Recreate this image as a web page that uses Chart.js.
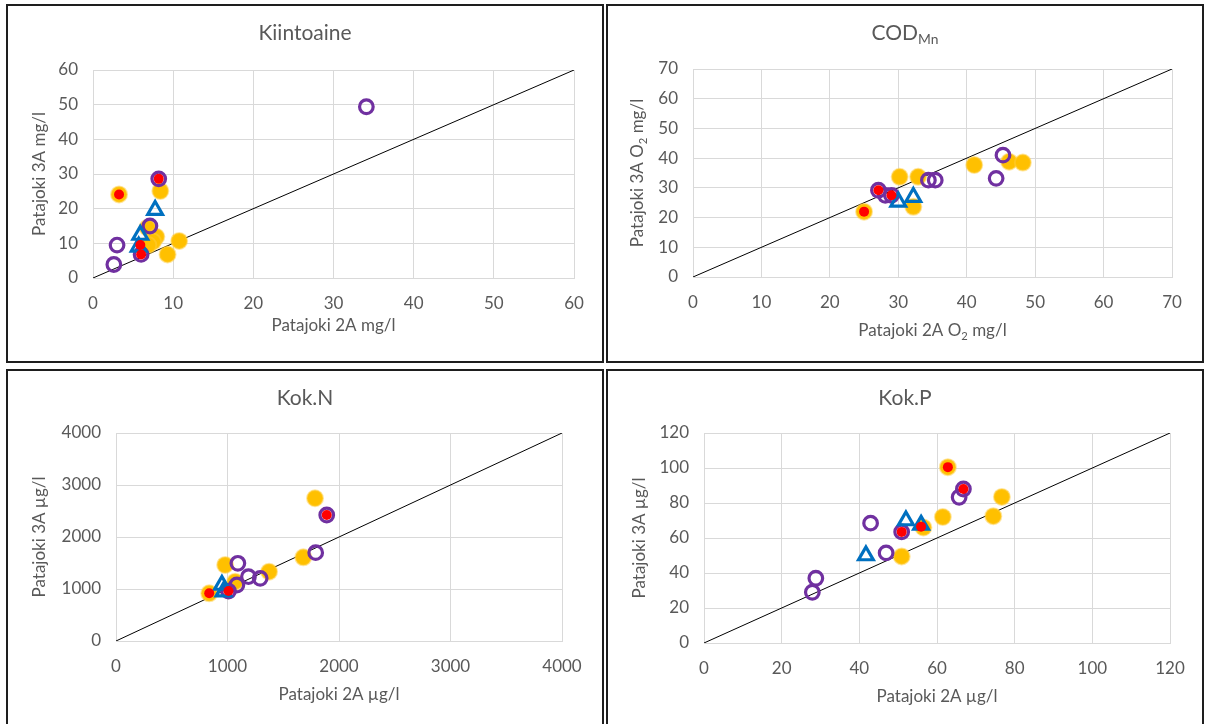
<!DOCTYPE html>
<html><head><meta charset="utf-8">
<script src="https://cdn.jsdelivr.net/npm/chart.js@4.4.0/dist/chart.umd.min.js"></script>
<style>
html,body{margin:0;padding:0;background:#fff;width:1205px;height:724px;overflow:hidden;position:relative;}
.panel{position:absolute;border:2px solid #1e1e1e;background:#fff;}
.panel canvas{display:block;}
</style></head><body>
<div class="panel" style="left:6px;top:4px;width:594px;height:355px"><canvas id="c1" width="594" height="355"></canvas></div>
<div class="panel" style="left:606px;top:4px;width:594px;height:355px"><canvas id="c2" width="594" height="355"></canvas></div>
<div class="panel" style="left:6px;top:369px;width:594px;height:355px"><canvas id="c3" width="594" height="355"></canvas></div>
<div class="panel" style="left:606px;top:369px;width:594px;height:355px"><canvas id="c4" width="594" height="355"></canvas></div>
<script>
// ---- data: [Patajoki 2A, Patajoki 3A] ----
const kiintoaineOrange = [[3.25,24.1],[8.4,25.1],[6.8,14.5],[7.9,11.9],[7.5,10.5],[10.75,10.7],[9.3,6.8],[6.9,9.5]];
const kiintoainePurple = [[8.2,28.6],[7.1,15.0],[3.0,9.5],[2.6,3.9],[6.0,6.8],[34.1,49.4]];
const kiintoaineBlue   = [[7.75,19.6],[5.9,12.4],[5.7,9.0]];
const kiintoaineRed    = [[3.25,24.1],[8.2,28.6],[6.0,6.8],[5.9,9.5]];

const codOrange = [[25.0,22.0],[30.2,33.7],[32.2,23.6],[32.9,33.7],[41.1,37.7],[46.2,38.8],[48.2,38.5]];
const codPurple = [[27.1,29.2],[28.1,27.5],[29.0,27.5],[34.4,32.6],[35.4,32.6],[44.3,33.2],[45.3,41.0]];
const codBlue   = [[30.0,25.3],[32.2,26.9]];
const codRed    = [[25.0,22.0],[27.1,29.2],[29.0,27.5]];

const kokNOrange = [[1785,2745],[1680,1609],[979,1462],[1373,1333],[1069,1141],[836,917]];
const kokNPurple = [[1890,2423],[1791,1699],[1093,1494],[1188,1237],[1293,1205],[1084,1077],[1009,960]];
const kokNBlue   = [[950,1077],[964,948]];
const kokNRed    = [[836,917],[1890,2423],[1009,960]];

const kokPOrange = [[62.8,100.5],[76.7,83.5],[74.5,72.5],[61.5,72.0],[56.5,66.0],[50.9,49.5]];
const kokPPurple = [[66.8,88.0],[65.7,83.3],[50.9,63.5],[42.9,68.5],[46.9,51.5],[28.8,37.0],[27.9,29.0]];
const kokPBlue   = [[52.0,70.0],[55.9,67.5],[41.7,50.0]];
const kokPRed    = [[62.8,100.5],[66.8,88.0],[50.9,63.5],[55.9,66.5]];

// axis ranges [min, max, step]; the 1:1 reference line runs from min to max
const kiintoaineAxis = [0, 60, 10];
const codAxis        = [0, 70, 10];
const kokNAxis       = [0, 4000, 1000];
const kokPAxis       = [0, 120, 20];

const FONT = 'Lato, "Open Sans", sans-serif';
const GRAY = '#595959';

function pts(a){ return a.map(p => ({x:p[0], y:p[1]})); }

function drawRich(ctx, segs, cx, cy, size, rotate){
  ctx.save();
  let total = 0;
  const ws = segs.map(s => { ctx.font = (s[1] ? size*0.66 : size) + 'px ' + FONT; const w = ctx.measureText(s[0]).width; total += w; return w; });
  ctx.translate(cx, cy);
  if (rotate) ctx.rotate(-Math.PI/2);
  ctx.fillStyle = GRAY; ctx.textBaseline = 'middle'; ctx.textAlign = 'left';
  let x = -total/2;
  segs.forEach((s,i) => {
    ctx.font = (s[1] ? size*0.66 : size) + 'px ' + FONT;
    ctx.fillText(s[0], x, s[1] ? size*0.3 : 0);
    x += ws[i];
  });
  ctx.restore();
}

const richPlugin = {
  id:'rich',
  afterDraw(chart){
    const o = chart.options.plugins.rich; if(!o) return;
    const ctx = chart.ctx, ca = chart.chartArea;
    drawRich(ctx, o.title, chart.width/2, o.titleY, 21, false);
    drawRich(ctx, o.xTitle, (ca.left+ca.right)/2, o.xTitleY, 17, false);
    drawRich(ctx, o.yTitle, o.yTitleX, (ca.top+ca.bottom)/2, 17, true);
  }
};

function makeChart(id, axis, orange, purple, blue, red, plot, rich){
  const W = 594, H = 355;
  const line = [[axis[0],axis[0]],[axis[1],axis[1]]];
  const scaleBase = (isX) => ({
    type:'linear', min:axis[0], max:axis[1],
    ticks:{stepSize:axis[2], color:GRAY, font:{family:FONT, size:17}, padding: isX ? 15 : 15,
           callback: v => String(v)},
    grid:{color:'#d9d9d9', lineWidth:1, drawTicks:false},
    border:{color:'#d9d9d9'},
    afterFit: isX ? (s => { s.height = H - plot.b; }) : (s => { s.width = plot.l; })
  });
  new Chart(document.getElementById(id), {
    type:'scatter',
    data:{datasets:[
      {data:pts(line), showLine:true, borderColor:'#000', borderWidth:1, pointRadius:0, order:10},
      {data:pts(orange), backgroundColor:'#FFC000', borderColor:'rgba(255,205,60,0.5)', borderWidth:2, pointRadius:8, order:4},
      {data:pts(purple), backgroundColor:'rgba(0,0,0,0)', borderColor:'#7030A0', borderWidth:3.2, pointRadius:6.8, order:3},
      {data:pts(blue), pointStyle:'triangle', backgroundColor:'rgba(0,0,0,0)', borderColor:'#0070C0', borderWidth:3.2, pointRadius:8.5, order:2},
      {data:pts(red), backgroundColor:'#FF0000', borderWidth:0, pointRadius:5, order:1}
    ]},
    options:{
      responsive:false, animation:false, events:[],
      layout:{padding:{left:0, top:plot.t, right:W-plot.r, bottom:0}},
      scales:{x:scaleBase(true), y:scaleBase(false)},
      plugins:{legend:{display:false}, tooltip:{enabled:false}, title:{display:false}, rich:rich}
    },
    plugins:[richPlugin]
  });
}

makeChart('c1', kiintoaineAxis, kiintoaineOrange, kiintoainePurple, kiintoaineBlue, kiintoaineRed,
  {l:85,t:64,r:566,b:272},
  {title:[['Kiintoaine']], titleY:27, xTitle:[['Patajoki 2A mg/l']], xTitleY:320, yTitle:[['Patajoki 3A mg/l']], yTitleX:32});
makeChart('c2', codAxis, codOrange, codPurple, codBlue, codRed,
  {l:85,t:63,r:564,b:271},
  {title:[['COD'],['Mn',1]], titleY:27, xTitle:[['Patajoki 2A O'],['2',1],[' mg/l']], xTitleY:325, yTitle:[['Patajoki 3A O'],['2',1],[' mg/l']], yTitleX:30});
makeChart('c3', kokNAxis, kokNOrange, kokNPurple, kokNBlue, kokNRed,
  {l:108,t:62,r:554,b:270},
  {title:[['Kok.N']], titleY:27, xTitle:[['Patajoki 2A µg/l']], xTitleY:324, yTitle:[['Patajoki 3A µg/l']], yTitleX:32});
makeChart('c4', kokPAxis, kokPOrange, kokPPurple, kokPBlue, kokPRed,
  {l:96,t:62,r:562,b:272},
  {title:[['Kok.P']], titleY:27, xTitle:[['Patajoki 2A µg/l']], xTitleY:326, yTitle:[['Patajoki 3A µg/l']], yTitleX:32});
</script>
</body></html>
